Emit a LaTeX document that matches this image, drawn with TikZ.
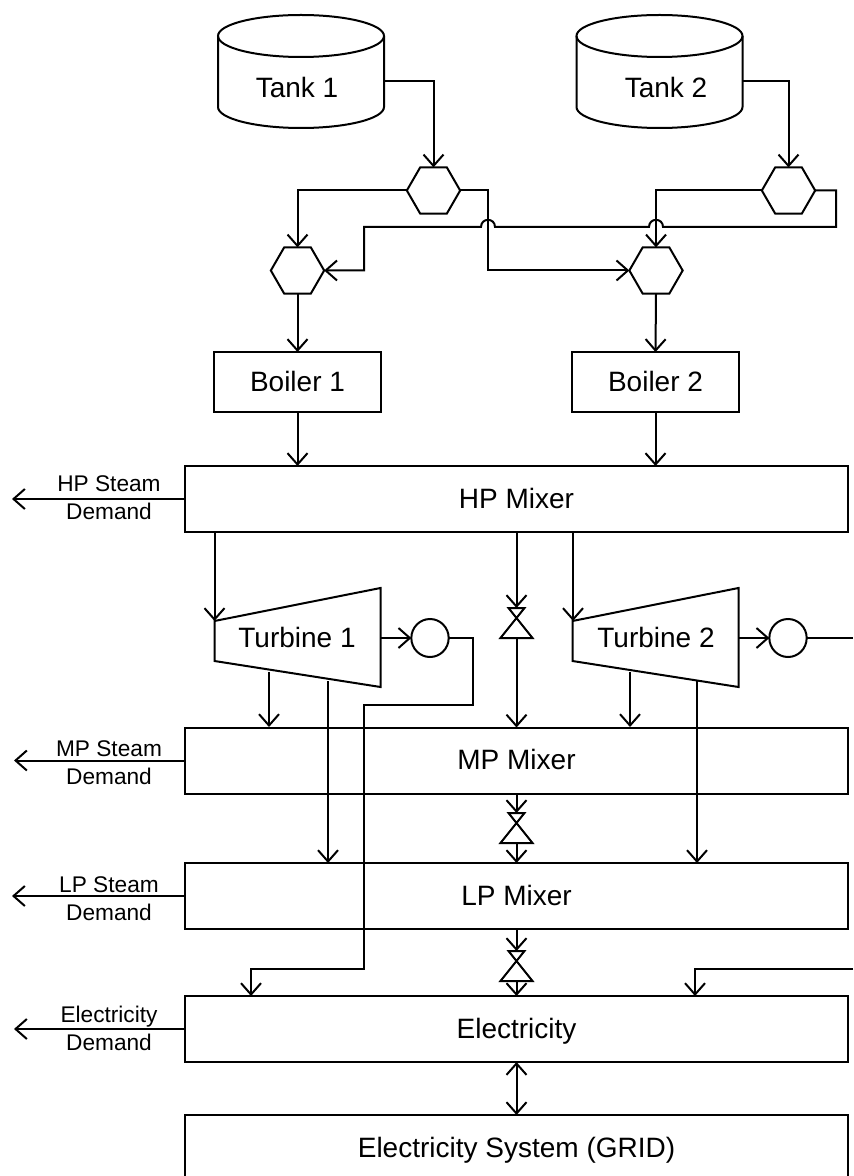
\documentclass[tikz,border=0pt]{standalone}
\usepackage{fontspec}
\setmainfont{Liberation Sans}
\usepackage{tikz}
\usetikzlibrary{arrows.meta,shapes.geometric}

\begin{document}
\begin{tikzpicture}[
  x=0.75pt,y=-0.75pt,
  line width=1.5pt,
  hexa/.style={draw,regular polygon,regular polygon sides=6,
               inner sep=0pt,outer sep=0pt,minimum size=40pt},
  rot/.style={font=\fontsize{21pt}{24pt}\selectfont,text height=16pt,text depth=2pt},
  caja/.style={draw,rot,inner sep=0pt,outer sep=0pt,minimum width=125pt,minimum height=45pt},
  mezcla/.style={caja,minimum width=497.25pt,minimum height=49.5pt},
  gen/.style={draw,ellipse,inner sep=0pt,outer sep=0pt,minimum width=28pt,minimum height=28.5pt},
  dem/.style={align=center,font=\fontsize{17pt}{21pt}\selectfont},
  fl/.style={-{Straight Barb[length=8.5pt,width=15pt]},line width=1.5pt}]
  \clip (0,0) rectangle (853,1176);
  % tanques
  \foreach \n/\x/\tx/\num in {tk1/218/297/1,tk2/576.5/666/2}{
    \draw (\x+83,36) ellipse [x radius=83,y radius=21];
    \draw (\x,36) -- (\x,107) arc [start angle=180,end angle=0,x radius=83,y radius=21] -- (\x+166,36);
    \coordinate (\n e) at (\x+166,81);
    \node[rot] (\n) at (\tx,88) {Tank \num};
  }
  \node[hexa] (h1) at (433.5,190.5) {};
  \node[hexa] (h2) at (788.5,190.5) {};
  \node[hexa] (h3) at (297.5,270.5) {};
  \node[hexa] (h4) at (656,270.5) {};
  \node[caja] (b1) at (297.5,382) {Boiler 1};
  \node[caja] (b2) at (655.5,382) {Boiler 2};
  \node[mezcla] (hp) at (516.5,499) {HP Mixer};
  \node[mezcla] (mp) at (516.5,760.5) {MP Mixer};
  \node[mezcla] (lp) at (516.5,896) {LP Mixer};
  \node[mezcla] (el) at (516.5,1029) {Electricity};
  \node[mezcla,minimum height=75pt] (gr) at (516.5,1165) {};
  \node[rot] (grt) at (516.5,1148) {Electricity System (GRID)};
  % turbinas
  \draw (214.5,621) -- (380.5,588) -- (380.5,687) -- (214.5,661) -- cycle;
  \draw (572.5,621) -- (738.5,588) -- (738.5,687) -- (572.5,661) -- cycle;
  \node[rot] (t1) at (297,638.5) {Turbine 1};
  \node[rot] (t2) at (656,638.5) {Turbine 2};
  \node[gen] (g1) at (430,638) {};
  \node[gen] (g2) at (788,638) {};
  \foreach \n/\y in {va/608,vb/813,vc/951}{
    \coordinate (\n) at (516.5,\y);
    \coordinate (\n s) at (516.5,\y+30);
    \draw (\n)+(-8,0) -- +(8,0) -- +(-16,30) -- +(16,30) -- cycle;
  }
  % tanques a hexagonos
  \draw[fl] (tk1e) -| (h1.north);
  \draw[fl] (tk2e) -| (h2.north);
  \draw[fl] (h1.west) -| (h3.north);
  \draw[fl] (h2.west) -| (h4.north);
  \draw[fl] (h1.east) -- (488,190.5) |- (h4.west);
  \draw[fl] (h2.east) -- (836,190.5) -- (836,227) -- (663,227) .. controls +(0,-9.5) and +(0,-9.5) .. (649,227)
    -- (495,227) .. controls +(0,-9.5) and +(0,-9.5) .. (481,227) -- (364,227) |- (h3.east);
  \draw[fl] (h3.south) -- (b1.north);
  \draw[fl] (h4.south) -- (b2.north);
  \draw[fl] (b1.south) -- (b1.south |- hp.north);
  \draw[fl] (b2.south) -- (b2.south |- hp.north);
  % demandas
  \draw[fl] (hp.west) -- (12,499);
  \draw[fl] (mp.west) -- (14,760.5);
  \draw[fl] (lp.west) -- (12,896);
  \draw[fl] (el.west) -- (14,1029);
  \node[dem] (d1) at (109,498) {HP Steam\\Demand};
  \node[dem] (d2) at (109,763) {MP Steam\\Demand};
  \node[dem] (d3) at (109,899) {LP Steam\\Demand};
  \node[dem] (d4) at (109,1028) {Electricity\\Demand};
  % vapor
  \draw[fl] (214.5,532) -- (214.5,621);
  \draw[fl] (573,532) -- (573,621);
  \draw[fl] (269,672) -- (269,727);
  \draw[fl] (328,681) -- (328,863);
  \draw[fl] (630,672) -- (630,727);
  \draw[fl] (697,681) -- (697,863);
  \draw[fl] (hp.south) -- (va);
  \draw[fl] (vas) -- (mp.north);
  \draw[fl] (mp.south) -- (vb);
  \draw[fl] (vbs) -- (lp.north);
  \draw[fl] (lp.south) -- (vc);
  \draw[fl] (vcs) -- (el.north);
  \draw[{Straight Barb[length=8.5pt,width=15pt]}-{Straight Barb[length=8.5pt,width=15pt]}] (el.south) -- (gr.north);
  % electricidad
  \draw[fl] (380.5,638) -- (g1.west);
  \draw[fl] (738.5,638) -- (g2.west);
  \draw (g2.east) -- (853,638);
  \draw[fl] (g1.east) -- (473,638) -- (473,704.5) -- (364,704.5) -- (364,969) -- (251,969) -- (251,996);
  \draw[fl] (853,969) -- (695,969) -- (695,996);
\end{tikzpicture}
\end{document}
